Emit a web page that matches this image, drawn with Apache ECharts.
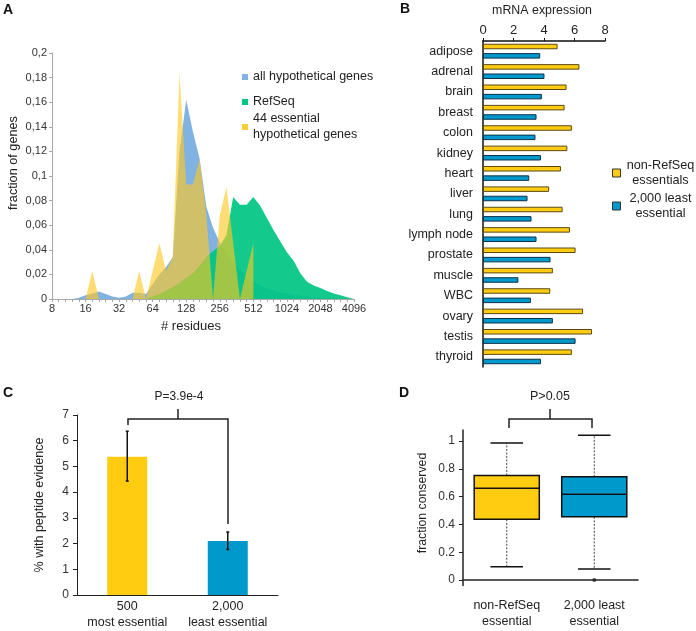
<!DOCTYPE html>
<html>
<head>
<meta charset="utf-8">
<script src="https://cdn.jsdelivr.net/npm/echarts@6/dist/echarts.min.js"></script>
<style>
html, body { margin: 0; padding: 0; background: #fff; }
#chart { width: 696px; height: 631px; }
</style>
</head>
<body>
<div id="chart"></div>
<script>
// A: protein length distribution, bins of 1/5 doubling
var residues = [8, 9, 11, 12, 14, 16, 18, 21, 24, 28, 32, 37, 42, 49, 56, 64, 74, 84, 97, 111,
    128, 147, 169, 194, 223, 256, 294, 338, 388, 446, 512, 588, 676, 776, 891, 1024, 1176, 1351,
    1552, 1783, 2048, 2353, 2702, 3104, 3566, 4096];
var allHypothetical = [0, 0, 0, 0, 0.001, 0.003, 0.0045, 0.006, 0.004, 0.002, 0.001, 0.002, 0.005,
    0.005, 0.004, 0.012, 0.02, 0.026, 0.034, 0.12, 0.162, 0.136, 0.114, 0.075, 0.058, 0.046, 0.037,
    0.03, 0.024, 0.018, 0.014, 0.011, 0.009, 0.007, 0.0055, 0.0045, 0.0035, 0.0028, 0.002, 0.0015,
    0.001, 0.0008, 0.0005, 0.0003, 0.0002, 0];
var refSeq = [0, 0, 0, 0, 0, 0, 0, 0, 0, 0, 0, 0, 0, 0, 0, 0.002, 0.004, 0.007, 0.0095, 0.013, 0.017,
    0.021, 0.027, 0.034, 0.039, 0.043, 0.052, 0.083, 0.0766, 0.0766, 0.083, 0.076, 0.066, 0.056, 0.047,
    0.038, 0.031, 0.021, 0.014, 0.011, 0.009, 0.0065, 0.0045, 0.003, 0.0015, 0.0005];
var essential44 = [0, 0, 0, 0, 0, 0, 0.0227, 0, 0, 0, 0, 0, 0, 0.0227, 0, 0.0227, 0.0455, 0.0227,
    0.034, 0.184, 0.093, 0.093, 0.1136, 0.068, 0, 0.068, 0.091, 0.0455, 0, 0.0227, 0.0455];

// B: mRNA expression per tissue
var tissues = ['adipose', 'adrenal', 'brain', 'breast', 'colon', 'kidney', 'heart', 'liver', 'lung',
    'lymph node', 'prostate', 'muscle', 'WBC', 'ovary', 'testis', 'thyroid'];
var nonRefSeqExpr = [4.89, 6.32, 5.48, 5.35, 5.83, 5.53, 5.11, 4.34, 5.22, 5.7, 6.07, 4.58, 4.41, 6.56, 7.15, 5.83];
var leastExpr = [3.75, 4.03, 3.86, 3.51, 3.44, 3.8, 3.03, 2.92, 3.18, 3.51, 4.43, 2.32, 3.14, 4.58, 6.07, 3.8];

// C: peptide evidence
var groupsC = ['500\nmost essential', '2,000\nleast essential'];
var peptideMean = [5.38, 2.1];
var peptideLow = [4.43, 1.77];
var peptideHigh = [6.37, 2.45];

// D: fraction conserved (min, q1, median, q3, max)
var groupsD = ['non-RefSeq\nessential', '2,000 least\nessential'];
var conservedBoxes = [[0.096, 0.437, 0.66, 0.753, 0.986], [0.079, 0.455, 0.617, 0.743, 1.043]];
var conservedOutliers = [[1, 0.0]];
var conservedTicks = [0, 0.2, 0.4, 0.6, 0.8, 1];

var YELLOW = '#ffcc11';
var BLUE = '#0099cc';
var FONT = 'Liberation Sans, Arial, sans-serif';
var TXT = '#222';

var chart = echarts.init(document.getElementById('chart'));

function errorBars(params, api) {
    var x = api.value(0);
    var lo = api.coord([x, api.value(1)]);
    var hi = api.coord([x, api.value(2)]);
    var st = {stroke: '#111', lineWidth: 1.5};
    return {type: 'group', children: [
        {type: 'line', shape: {x1: lo[0], y1: lo[1], x2: hi[0], y2: hi[1]}, style: st},
        {type: 'line', shape: {x1: lo[0] - 1.5, y1: lo[1], x2: lo[0] + 1.5, y2: lo[1]}, style: st},
        {type: 'line', shape: {x1: hi[0] - 1.5, y1: hi[1], x2: hi[0] + 1.5, y2: hi[1]}, style: st}
    ]};
}

function boxes(params, api) {
    var i = api.value(0);
    var band = api.size([1, 0])[0];
    var half = band * 0.372;
    var cap = half / 2;
    var pMin = api.coord([i, api.value(1)]);
    var pQ1 = api.coord([i, api.value(2)]);
    var pMed = api.coord([i, api.value(3)]);
    var pQ3 = api.coord([i, api.value(4)]);
    var pMax = api.coord([i, api.value(5)]);
    var cx = pMed[0];
    var dotted = {stroke: '#444', lineWidth: 1, lineDash: [2, 1.5]};
    var solid = {stroke: '#111', lineWidth: 1.5};
    return {type: 'group', children: [
        {type: 'line', shape: {x1: cx, y1: pQ3[1], x2: cx, y2: pMax[1]}, style: dotted},
        {type: 'line', shape: {x1: cx, y1: pQ1[1], x2: cx, y2: pMin[1]}, style: dotted},
        {type: 'line', shape: {x1: cx - cap, y1: pMax[1], x2: cx + cap, y2: pMax[1]}, style: solid},
        {type: 'line', shape: {x1: cx - cap, y1: pMin[1], x2: cx + cap, y2: pMin[1]}, style: solid},
        {type: 'rect', shape: {x: cx - half, y: pQ3[1], width: half * 2, height: pQ1[1] - pQ3[1]},
            style: {fill: i === 0 ? YELLOW : BLUE, stroke: '#111', lineWidth: 1.5}},
        {type: 'line', shape: {x1: cx - half, y1: pMed[1], x2: cx + half, y2: pMed[1]}, style: solid}
    ]};
}

function legendA(name, top, extra) {
    return {
        data: [name], left: 242, top: top, orient: 'vertical', padding: 0,
        icon: 'rect', itemWidth: 6, itemHeight: 6,
        textStyle: Object.assign({fontSize: 12.5, color: TXT, fontFamily: FONT, lineHeight: 16}, extra || {}),
        formatter: function (n) { return n === '44 essential hypothetical genes' ? '44 essential\nhypothetical genes' : n; }
    };
}

var option = {
    animation: false,
    textStyle: {fontFamily: FONT},
    grid: [
        {left: 52, top: 53, width: 302, height: 246},
        {left: 483, top: 40, width: 122, height: 327},
        {left: 77, top: 415, width: 201, height: 181},
        {left: 463, top: 430, width: 175, height: 155.6}
    ],
    legend: [
        legendA('all hypothetical genes', 69),
        legendA('RefSeq', 94),
        legendA('44 essential hypothetical genes', 103, {padding: [16, 0, 0, 0]}),
        {
            data: ['non-RefSeq essentials', '2,000 least essential'],
            left: 612, top: 159, orient: 'vertical', padding: 0, itemGap: 5,
            icon: 'rect', itemWidth: 8, itemHeight: 8,
            itemStyle: {borderColor: '#333', borderWidth: 1},
            formatter: function (n) {
                return n === 'non-RefSeq essentials' ? '{a|non-RefSeq}\n{a|essentials}' : '{a|2,000 least}\n{a|essential}';
            },
            textStyle: {color: TXT, fontFamily: FONT, rich: {a: {width: 70, align: 'center', fontSize: 12.7, lineHeight: 15, color: TXT, fontFamily: FONT}}}
        }
    ],
    xAxis: [
        {
            gridIndex: 0, type: 'category', data: residues, boundaryGap: false,
            axisLine: {lineStyle: {color: '#a8a8a8'}},
            axisTick: {interval: 0, length: 3, lineStyle: {color: '#a8a8a8'}},
            axisLabel: {interval: 4, fontSize: 11, color: '#333', margin: 4},
            name: '# residues', nameLocation: 'middle', nameGap: 21,
            nameTextStyle: {fontSize: 13, color: TXT, padding: [0, 24, 0, 0]}
        },
        {
            gridIndex: 1, type: 'value', position: 'top', min: 0, max: 8, interval: 2,
            axisLine: {show: true, lineStyle: {color: '#111', width: 1.5}},
            axisTick: {show: true, length: 3, lineStyle: {color: '#111'}},
            splitLine: {show: false},
            axisLabel: {fontSize: 13, color: TXT, margin: 4},
            name: 'mRNA expression', nameLocation: 'middle', nameGap: 24,
            nameTextStyle: {fontSize: 12.4, color: TXT, padding: [0, 4, 0, 0]}
        },
        {
            gridIndex: 2, type: 'category', data: groupsC,
            axisLine: {lineStyle: {color: '#222'}},
            axisTick: {length: 4, lineStyle: {color: '#222'}},
            axisLabel: {interval: 0, fontSize: 12.5, color: TXT, lineHeight: 16, margin: 4}
        },
        {
            gridIndex: 3, type: 'category', data: groupsD,
            axisLine: {lineStyle: {color: '#222', width: 1.5}},
            axisTick: {alignWithLabel: true, length: 4, lineStyle: {color: '#222'}},
            axisLabel: {interval: 0, fontSize: 12.5, color: TXT, lineHeight: 16, margin: 12}
        }
    ],
    yAxis: [
        {
            gridIndex: 0, type: 'value', min: 0, max: 0.2, interval: 0.02,
            axisLine: {show: true, lineStyle: {color: '#a8a8a8'}},
            axisTick: {show: true, length: 3, lineStyle: {color: '#a8a8a8'}},
            splitLine: {show: false},
            axisLabel: {fontSize: 11, color: '#333', margin: 5,
                formatter: function (v) { return String(+v.toFixed(2)).replace('.', ','); }}
        },
        {
            gridIndex: 1, type: 'category', data: tissues, inverse: true,
            axisLine: {lineStyle: {color: '#111', width: 1.5}},
            axisTick: {alignWithLabel: true, length: 4, lineStyle: {color: '#111', width: 1.5}},
            axisLabel: {interval: 0, fontSize: 12.5, color: TXT, margin: 10}
        },
        {
            gridIndex: 2, type: 'value', min: 0, max: 7, interval: 1,
            axisLine: {show: true, lineStyle: {color: '#222'}},
            axisTick: {show: true, length: 4, lineStyle: {color: '#222'}},
            splitLine: {show: false},
            axisLabel: {fontSize: 12, color: '#333', margin: 8}
        },
        {
            gridIndex: 3, type: 'value', min: -0.04, max: 1.08,
            axisLine: {show: true, lineStyle: {color: '#222', width: 1.5}},
            axisTick: {show: true, length: 4, customValues: conservedTicks, lineStyle: {color: '#222'}},
            splitLine: {show: false},
            axisLabel: {fontSize: 12, color: '#333', margin: 8, customValues: conservedTicks}
        }
    ],
    series: [
        {
            name: 'all hypothetical genes', type: 'line', xAxisIndex: 0, yAxisIndex: 0,
            data: allHypothetical, symbol: 'none', lineStyle: {width: 0},
            itemStyle: {color: 'rgb(128,178,226)'}, areaStyle: {color: 'rgb(128,178,226)', opacity: 1}, z: 2
        },
        {
            name: 'RefSeq', type: 'line', xAxisIndex: 0, yAxisIndex: 0,
            data: refSeq, symbol: 'none', lineStyle: {width: 0},
            itemStyle: {color: 'rgb(0,198,132)'}, areaStyle: {color: 'rgba(0,196,130,0.92)', opacity: 1}, z: 3
        },
        {
            name: '44 essential hypothetical genes', type: 'line', xAxisIndex: 0, yAxisIndex: 0,
            data: essential44, symbol: 'none', lineStyle: {width: 0},
            itemStyle: {color: 'rgb(255,205,50)'}, areaStyle: {color: 'rgba(255,200,30,0.62)', opacity: 1}, z: 4
        },
        {
            name: 'non-RefSeq essentials', type: 'bar', xAxisIndex: 1, yAxisIndex: 1,
            data: nonRefSeqExpr, barWidth: 5.5, barGap: '70%',
            itemStyle: {color: YELLOW, borderColor: '#5a4a12', borderWidth: 1}
        },
        {
            name: '2,000 least essential', type: 'bar', xAxisIndex: 1, yAxisIndex: 1,
            data: leastExpr, barWidth: 5.5, barGap: '70%',
            itemStyle: {color: BLUE, borderColor: '#0b3148', borderWidth: 1}
        },
        {
            name: 'peptide', type: 'bar', xAxisIndex: 2, yAxisIndex: 2, barWidth: 40,
            data: peptideMean.map(function (v, i) { return {value: v, itemStyle: {color: i === 0 ? YELLOW : BLUE}}; })
        },
        {
            name: 'peptide error', type: 'custom', xAxisIndex: 2, yAxisIndex: 2,
            renderItem: errorBars, encode: {x: 0, y: [1, 2]}, z: 5,
            data: peptideLow.map(function (v, i) { return [i, v, peptideHigh[i]]; })
        },
        {
            name: 'conserved', type: 'custom', xAxisIndex: 3, yAxisIndex: 3,
            renderItem: boxes, encode: {x: 0, y: [1, 2, 3, 4, 5]},
            data: conservedBoxes.map(function (b, i) { return [i].concat(b); })
        },
        {
            name: 'outliers', type: 'scatter', xAxisIndex: 3, yAxisIndex: 3,
            data: conservedOutliers, symbolSize: 4, itemStyle: {color: '#222'}
        }
    ],
    graphic: [
        {type: 'text', x: 3, y: 3, style: {text: 'A', font: 'bold 14px ' + FONT, fill: '#111'}},
        {type: 'text', x: 400, y: 2, style: {text: 'B', font: 'bold 14px ' + FONT, fill: '#111'}},
        {type: 'text', x: 3, y: 386, style: {text: 'C', font: 'bold 14px ' + FONT, fill: '#111'}},
        {type: 'text', x: 399, y: 386, style: {text: 'D', font: 'bold 14px ' + FONT, fill: '#111'}},
        {type: 'text', x: 13, y: 163, rotation: Math.PI / 2,
            style: {text: 'fraction of genes', font: '12.7px ' + FONT, fill: TXT, align: 'center', verticalAlign: 'middle'}},
        {type: 'text', x: 40, y: 505, rotation: Math.PI / 2,
            style: {text: '% with peptide evidence', font: '12.5px ' + FONT, fill: TXT, align: 'center', verticalAlign: 'middle'}},
        {type: 'text', x: 423, y: 503, rotation: Math.PI / 2,
            style: {text: 'fraction conserved', font: '12.3px ' + FONT, fill: TXT, align: 'center', verticalAlign: 'middle'}},
        {type: 'text', x: 179, y: 397,
            style: {text: 'P=3.9e-4', font: '12px ' + FONT, fill: TXT, align: 'center', verticalAlign: 'middle'}},
        {type: 'text', x: 550, y: 397,
            style: {text: 'P>0.05', font: '12.5px ' + FONT, fill: TXT, align: 'center', verticalAlign: 'middle'}},
        {type: 'polyline', shape: {points: [[128, 425], [128, 419], [228, 419], [228, 524]]},
            style: {stroke: '#222', lineWidth: 1.5, fill: null}},
        {type: 'line', shape: {x1: 178, y1: 419, x2: 178, y2: 409}, style: {stroke: '#222', lineWidth: 1.5}},
        {type: 'polyline', shape: {points: [[509, 428], [509, 419], [592, 419], [592, 428]]},
            style: {stroke: '#222', lineWidth: 1.5, fill: null}},
        {type: 'line', shape: {x1: 550, y1: 419, x2: 550, y2: 409}, style: {stroke: '#222', lineWidth: 1.5}}
    ]
};

chart.setOption(option);
</script>
</body>
</html>
